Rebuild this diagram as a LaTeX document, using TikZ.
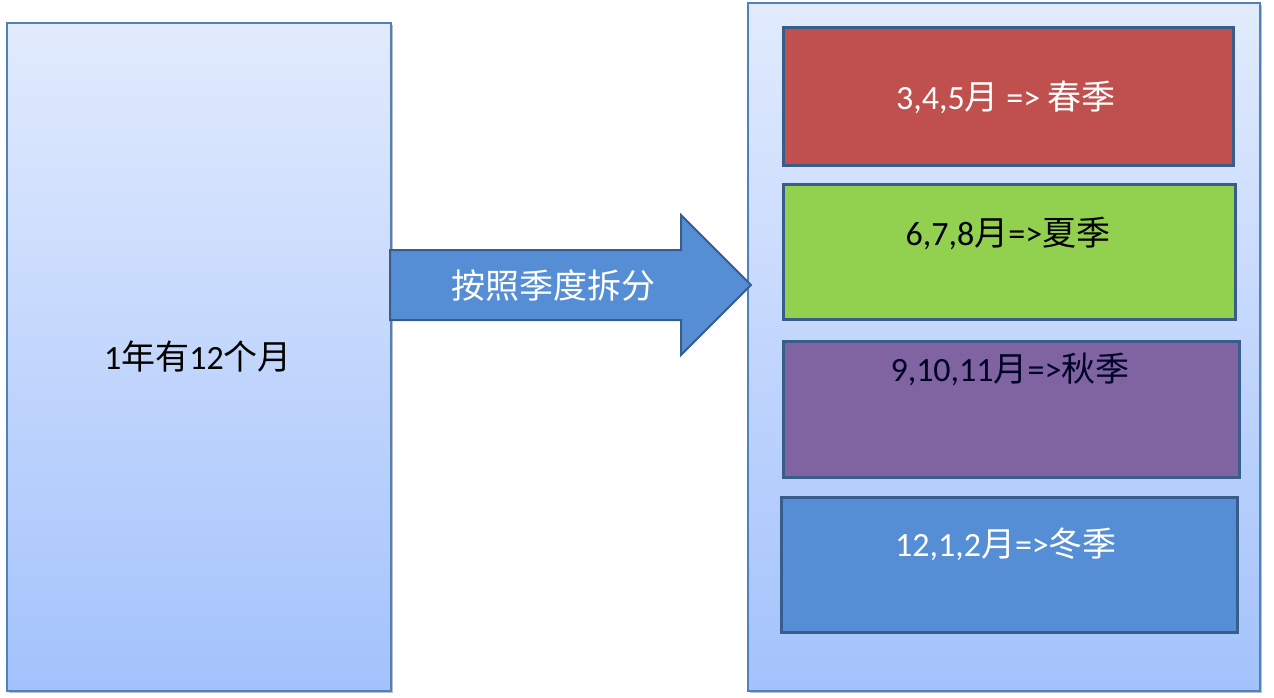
\documentclass[tikz,border=0pt]{standalone}
\usepackage{fontspec}
\setmainfont{Carlito}
\newfontfamily\cjk{Noto Sans CJK SC}
\usetikzlibrary{shadows}
\definecolor{gtop}{RGB}{226,235,253}
\definecolor{gbot}{RGB}{163,194,252}
\definecolor{outline}{RGB}{79,129,189}
\definecolor{darkline}{RGB}{56,93,138}
\definecolor{sred}{RGB}{192,80,77}
\definecolor{sgreen}{RGB}{146,208,80}
\definecolor{spurple}{RGB}{128,100,162}
\definecolor{sblue}{RGB}{85,142,213}
\tikzset{
  panel/.style={draw=outline, line width=1.5pt, top color=gtop, bottom color=gbot,
    drop shadow={shadow xshift=2pt, shadow yshift=-2pt, opacity=0.25, fill=black}},
  seasonbox/.style={draw=darkline, line width=3pt},
  lbl/.style={font=\fontsize{34}{40}\selectfont, inner sep=0pt},
}
\begin{document}
\begin{tikzpicture}[x=1pt,y=-1pt]
\useasboundingbox (0,0) rectangle (1274,698);
\path[fill=white] (0,0) rectangle (1274,698);
% left panel
\draw[panel] (7,23) rectangle (391,691);
\coordinate (leftc) at (198,357);
\node[lbl, text=black] (left) at (leftc) {1{\cjk 年有}12{\cjk 个月}};
% right panel
\draw[panel] (748,3) rectangle (1260,691);
% season boxes
\draw[seasonbox, fill=sred] (783,28) rectangle (1233,165);
\node[lbl, text=white] (spring) at (1006,97) {3,4,5{\cjk 月} =\textgreater{} {\cjk 春季}};
\draw[seasonbox, fill=sgreen] (783,184) rectangle (1235,319);
\node[lbl, text=black] (summer) at (1008,233) {6,7,8{\cjk 月}=\textgreater{\cjk 夏季}};
\draw[seasonbox, fill=spurple] (783,341) rectangle (1239,477);
\node[lbl, text=black!85!blue] (autumn) at (1010,369) {9,10,11{\cjk 月}=\textgreater{\cjk 秋季}};
\draw[seasonbox, fill=sblue] (781,497) rectangle (1237,632);
\node[lbl, text=white] (winter) at (1006,544) {12,1,2{\cjk 月}=\textgreater{\cjk 冬季}};
% block arrow
\draw[draw=darkline, line width=2pt, fill=sblue, line join=miter]
  (390,250) -- (681,250) -- (681,215) -- (751,285) -- (681,355) -- (681,320) -- (390,320) -- cycle;
\node[lbl, text=white] (split) at (553,286) {{\cjk 按照季度拆分}};
\end{tikzpicture}
\end{document}
